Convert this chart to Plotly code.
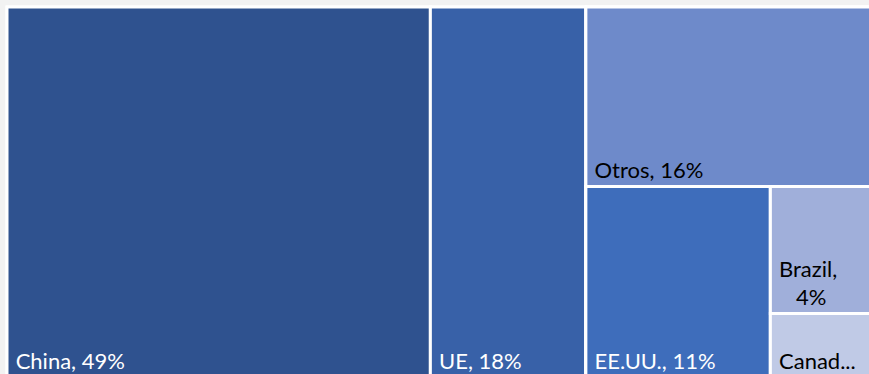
import plotly.graph_objects as go

# Market shares (%) of each region
regions = ["China", "UE", "Otros", "EE.UU.", "Brazil", "Canadá"]
shares = [49, 18, 16, 11, 4, 2]
tile_colors = ["#2F528F", "#3861A8", "#6E8ACA", "#3E6DBB", "#A0AFDA", "#C0CAE6"]
text_colors = ["white", "white", "black", "white", "black", "black"]

# Tile captions as they appear on the tiles (narrow tiles wrap / truncate)
NB = "\u00a0"
captions = [
    f"{NB}{regions[0]}, {shares[0]}%",
    f"{NB}{regions[1]}, {shares[1]}%",
    f"{NB}{regions[2]}, {shares[2]}%",
    f"{NB}{regions[3]}, {shares[3]}%",
    f"{NB}{regions[4]},<br>{NB * 4}{shares[4]}%",
    f"{NB}Canad...",
]

# Nested grouping (listed in drawing order) so slice-dice tiling
# stacks the smaller regions on the right-hand side
nodes = [
    # id, parent, value, color, caption, text color
    ("Total", "", 0, "#FFFFFF", "", "black"),
    (regions[0], "Total", shares[0], tile_colors[0], captions[0], text_colors[0]),
    (regions[1], "Total", shares[1], tile_colors[1], captions[1], text_colors[1]),
    ("Resto", "Total", 0, "#FFFFFF", "", "black"),
    (regions[2], "Resto", shares[2], tile_colors[2], captions[2], text_colors[2]),
    ("Sub1", "Resto", 0, "#FFFFFF", "", "black"),
    (regions[3], "Sub1", shares[3], tile_colors[3], captions[3], text_colors[3]),
    ("Sub2", "Sub1", 0, "#FFFFFF", "", "black"),
    (regions[4], "Sub2", shares[4], tile_colors[4], captions[4], text_colors[4]),
    (regions[5], "Sub2", shares[5], tile_colors[5], captions[5], text_colors[5]),
]
ids, parents, values, colors, texts, tcolors = (list(c) for c in zip(*nodes))

fig = go.Figure(
    go.Treemap(
        ids=ids,
        labels=ids,
        parents=parents,
        values=values,
        branchvalues="remainder",
        sort=False,
        text=texts,
        texttemplate="%{text}",
        textposition="bottom left",
        textfont=dict(family="Lato", size=22, color=tcolors),
        marker=dict(
            colors=colors,
            line=dict(color="white", width=3),
            pad=dict(t=0, l=0, r=0, b=0),
        ),
        tiling=dict(packing="slice-dice", pad=0),
        pathbar=dict(visible=False),
        hoverinfo="skip",
        root=dict(color="white"),
    )
)

fig.update_layout(
    width=871,
    height=377,
    margin=dict(l=7, t=7, r=0, b=0),
    paper_bgcolor="#F2F2F2",
    font=dict(family="Lato"),
)

fig.write_html(
    "out.html",
    post_script="document.documentElement.style.overflow='hidden';document.body.style.overflow='hidden';document.body.style.margin='0';",
)
